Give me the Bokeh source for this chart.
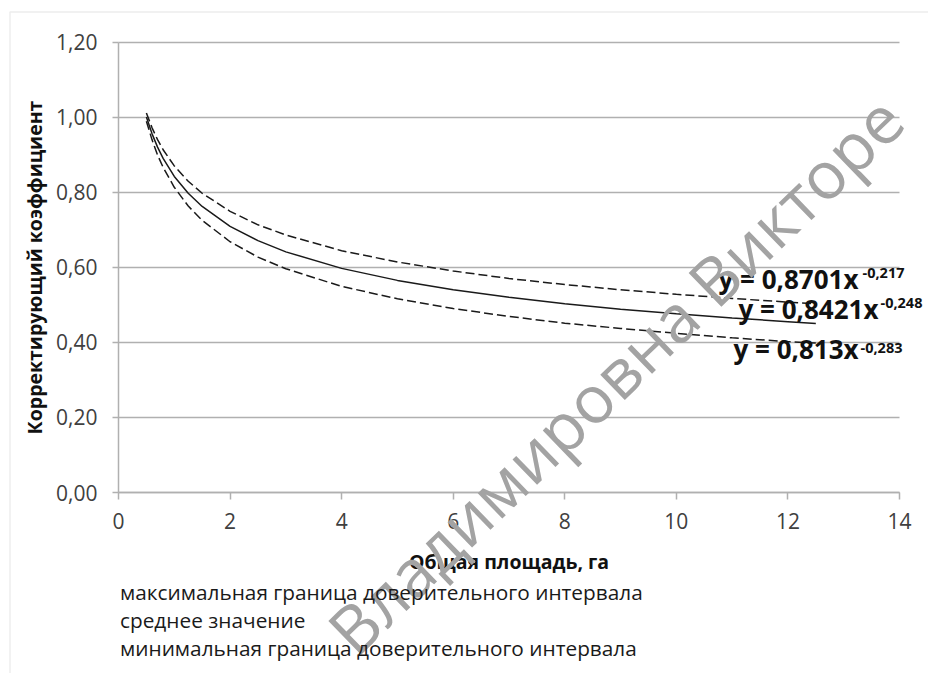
from bokeh.plotting import figure
from bokeh.models import (FixedTicker, CustomJSTickFormatter, Legend, LegendItem,
                          Label, Range1d, BoxAnnotation)
from bokeh.embed import file_html
from bokeh.resources import INLINE

# ---- data ----
area_ha = [0.5, 0.6, 0.7, 0.8, 1.0, 1.25, 1.5, 2, 2.5, 3, 4, 5, 6, 7, 8, 9, 10, 11, 12, 12.5]
coef_max = [1.011, 0.972, 0.940, 0.913, 0.870, 0.829, 0.797, 0.749, 0.713, 0.686,
            0.644, 0.614, 0.590, 0.570, 0.554, 0.540, 0.528, 0.517, 0.507, 0.503]
coef_mean = [1.000, 0.956, 0.920, 0.890, 0.842, 0.797, 0.762, 0.709, 0.671, 0.641,
             0.597, 0.565, 0.540, 0.520, 0.503, 0.488, 0.476, 0.465, 0.455, 0.450]
coef_min = [0.989, 0.940, 0.899, 0.866, 0.813, 0.763, 0.725, 0.668, 0.627, 0.596,
            0.549, 0.516, 0.490, 0.469, 0.451, 0.437, 0.424, 0.412, 0.402, 0.398]

series_names = ["максимальная граница доверительного интервала",
                "среднее значение",
                "минимальная граница доверительного интервала"]
x_ticks = [0, 2, 4, 6, 8, 10, 12, 14]
y_ticks = [0.0, 0.2, 0.4, 0.6, 0.8, 1.0, 1.2]
x_title = "Общая площадь, га"
y_title = "Корректирующий коэффициент"
eq_main = ["y = 0,8701x", "y = 0,8421x", "y = 0,813x"]
eq_power = ["-0,217", "-0,248", "-0,283"]
watermark = "Владимировна Викторе"

FONT = "Open Sans"
GRID = "#b0b0b0"
INK = "#1a1a1a"

W, H = 928, 673
PX_X = 781 / 14.0        # pixels per x unit
PX_Y = 450.5 / 1.2       # pixels per y unit
X0_PX, Y0_PX = 118, 492  # where the data origin sits on the page

x_rng = Range1d(-X0_PX / PX_X, 14 + (W - 899) / PX_X)
y_rng = Range1d(-(H - Y0_PX) / PX_Y, Y0_PX / PX_Y)

p = figure(width=W, height=H, x_range=x_rng, y_range=y_rng, title=None,
           output_backend="svg", toolbar_location=None,
           min_border=0, min_border_left=0, min_border_right=0,
           min_border_top=0, min_border_bottom=0)
p.outline_line_color = None
p.background_fill_color = "white"
p.border_fill_color = "white"

# axes, drawn at the data origin
p.xaxis.ticker = FixedTicker(ticks=x_ticks)
p.yaxis.ticker = FixedTicker(ticks=y_ticks)
p.yaxis.formatter = CustomJSTickFormatter(code="return tick.toFixed(2).replace('.', ',');")
for ax in (p.xaxis, p.yaxis):
    ax.fixed_location = 0
    ax.axis_line_color = GRID
    ax.axis_line_width = 1.5
    ax.major_tick_line_color = GRID
    ax.major_tick_line_width = 1.5
    ax.major_tick_in = 0
    ax.minor_tick_line_color = None
    ax.major_label_text_font = FONT
    ax.major_label_text_font_size = "21px"
    ax.major_label_text_color = "#404040"
    ax.axis_label_text_font = FONT
    ax.axis_label_text_font_style = "bold"
    ax.axis_label_text_color = "#111111"
p.xaxis.bounds = (0, 14)
p.yaxis.bounds = (0, 1.2)
p.xaxis.axis_label_text_font_size = "19.5px"
p.yaxis.axis_label_text_font_size = "19.5px"
p.xaxis.major_tick_out = 7
p.yaxis.major_tick_out = 6
p.xaxis.major_label_standoff = 13
p.yaxis.major_label_standoff = 15
p.xaxis.axis_label = x_title
p.yaxis.axis_label = y_title
p.xaxis.axis_label_standoff = 16
p.yaxis.axis_label_standoff = 5

p.xgrid.visible = False
p.ygrid.grid_line_color = GRID
p.ygrid.grid_line_width = 1.5
p.ygrid.cross_bounds = (0, 14)

# chart-area border (left and top edges visible)
p.add_layout(BoxAnnotation(left=(9.5 - X0_PX) / PX_X, top=(Y0_PX - 11.5) / PX_Y,
                           right=x_rng.end + 5, bottom=y_rng.start - 5,
                           fill_alpha=0, line_color="#c4c4c4", line_width=1.5,
                           level="underlay"))

# curves
r_max = p.line(area_ha, coef_max, line_color=INK, line_width=1.5, line_dash="9 4")
r_mean = p.line(area_ha, coef_mean, line_color=INK, line_width=1.5)
r_min = p.line(area_ha, coef_min, line_color=INK, line_width=1.5, line_dash="9 4")

legend = Legend(items=[LegendItem(label=series_names[0], renderers=[r_max]),
                       LegendItem(label=series_names[1], renderers=[r_mean]),
                       LegendItem(label=series_names[2], renderers=[r_min])],
                location=(120, 11), glyph_width=0, label_standoff=0, padding=0,
                margin=0, spacing=0, border_line_color=None, background_fill_alpha=0,
                label_text_font=FONT, label_text_font_size="20.8px",
                label_text_color=INK)
p.add_layout(legend, "center")

# trendline equations
eq_pos = [(10.755, 0.569), (11.114, 0.489), (11.024, 0.382)]
pow_pos = [(13.337, 0.584), (13.659, 0.504), (13.301, 0.384)]
for txt, (ex, ey) in zip(eq_main, eq_pos):
    p.add_layout(Label(x=ex, y=ey, text=txt, text_font=FONT, text_font_style="bold",
                       text_font_size="26px", text_color="#111111",
                       text_baseline="alphabetic", text_align="left"))
for txt, (ex, ey) in zip(eq_power, pow_pos):
    p.add_layout(Label(x=ex, y=ey, text=txt, text_font=FONT, text_font_style="bold",
                       text_font_size="14.5px", text_color="#111111",
                       text_baseline="alphabetic", text_align="left"))

# watermark
p.add_layout(Label(x=3.944, y=-0.3942, text=watermark, text_font=FONT,
                   text_font_size="66px", text_color="#a3a3a3",
                   angle=44, angle_units="deg", text_baseline="middle",
                   text_align="left"))

open("out.html", "w").write(file_html(p, INLINE))
